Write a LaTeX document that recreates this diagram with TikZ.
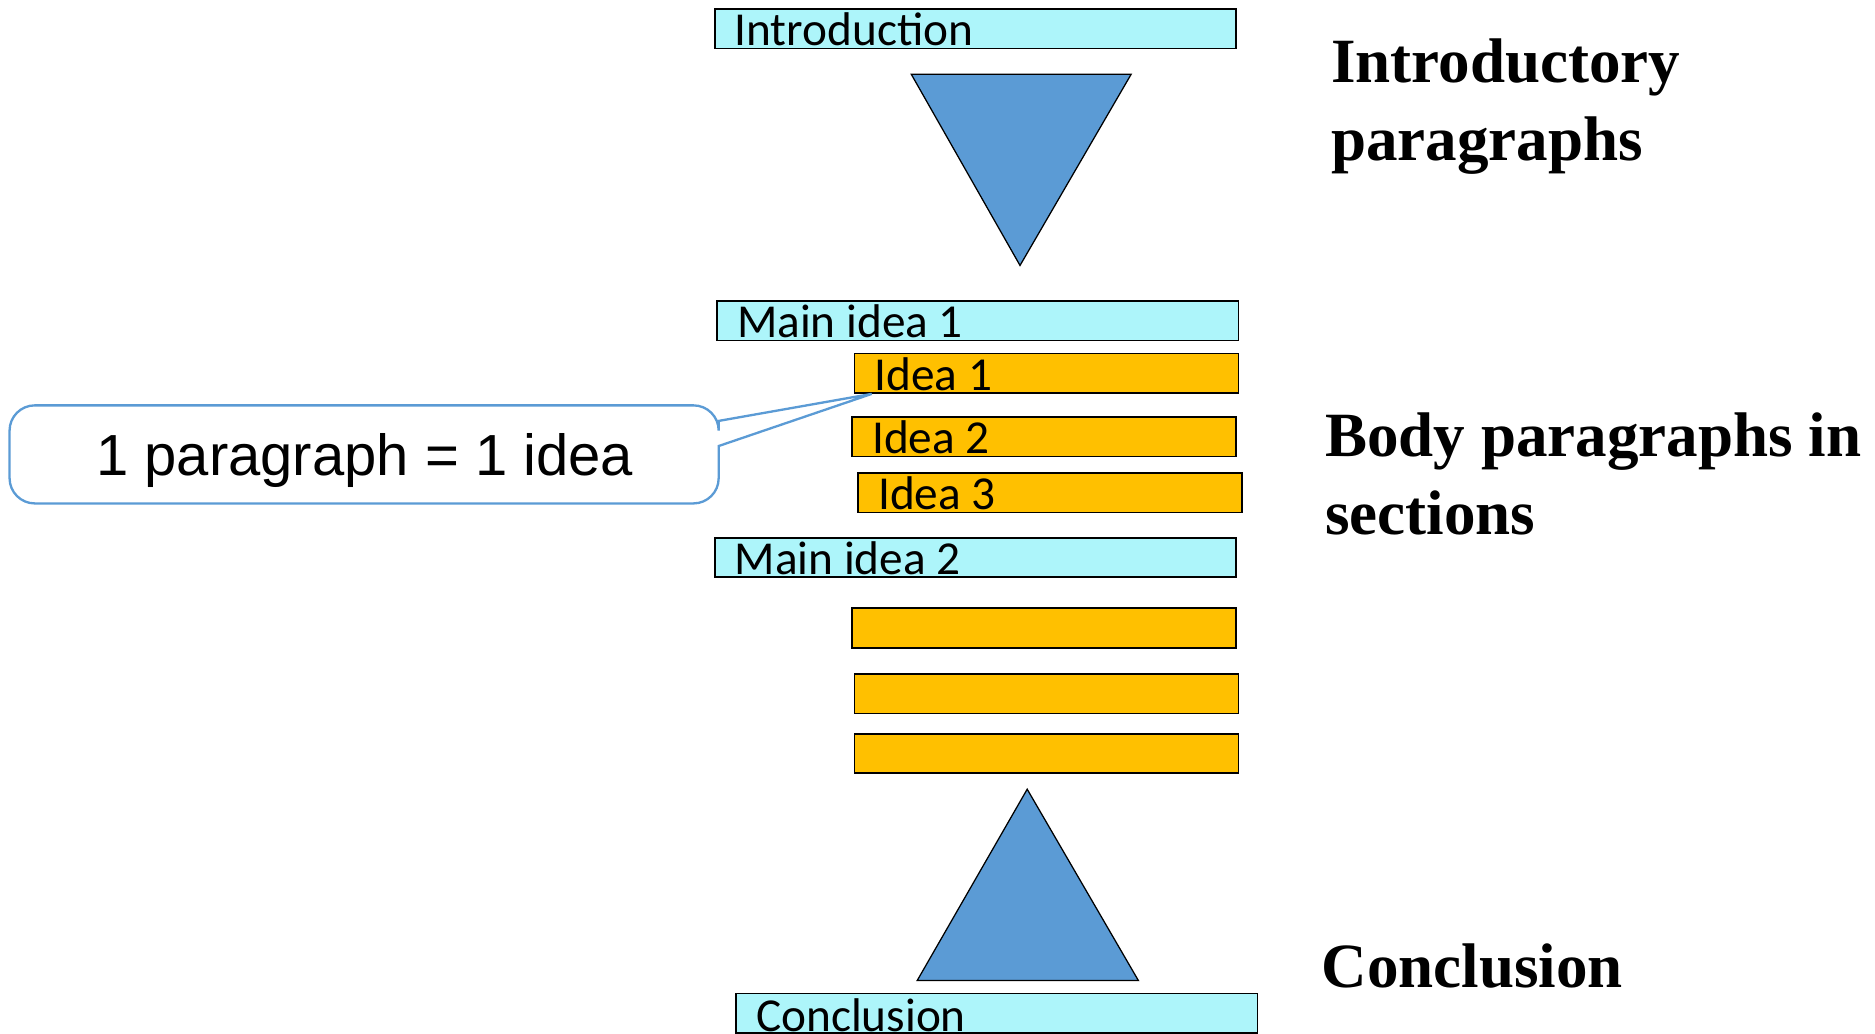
\documentclass[tikz,border=0pt]{standalone}
\usepackage{fontspec}
\setmainfont{Liberation Serif}
\newfontfamily\boxfont{Carlito}
\newfontfamily\callfont{Liberation Sans}
\usetikzlibrary{calc}
\definecolor{cyanfill}{RGB}{173,245,250}
\definecolor{orangefill}{RGB}{255,192,0}
\definecolor{trifill}{RGB}{91,155,213}
\definecolor{callblue}{RGB}{91,155,213}
\begin{document}
\begin{tikzpicture}[x=0.02cm,y=-0.02cm,
  bar/.style={draw=black, line width=0.8pt, rectangle, inner sep=0pt, anchor=north west, minimum height=0.66cm},
  mainbar/.style={bar, fill=cyanfill, minimum width=8.72cm},
  ideabar/.style={bar, fill=orangefill, minimum width=6.42cm},
  bartext/.style={anchor=base west, inner sep=0pt, font=\boxfont\fontsize{22.5}{27}\selectfont},
  sidelabel/.style={anchor=base west, inner sep=0pt, align=left, font=\bfseries\fontsize{30}{37}\selectfont},
  tri/.style={draw=black, line width=0.6pt, fill=trifill, line join=miter},
  callout/.style={draw=callblue, line width=1.1pt, fill=white}
]
\useasboundingbox (0,0) rectangle (1568,864);

% bars
\node[mainbar] (intro) at (597,7) {};
\node[mainbar] (main1) at (599,251) {};
\node[ideabar] (idea1) at (714,295) {};
\node[ideabar] (idea2) at (712,348) {};
\node[ideabar] (idea3) at (717,395) {};
\node[mainbar] (main2) at (597,449) {};
\node[ideabar] (blank1) at (712,508) {};
\node[ideabar] (blank2) at (714,563) {};
\node[ideabar] (blank3) at (714,613) {};
\node[mainbar] (concl) at (615,830) {};

% bar texts
\node[bartext] (tintro) at ($(intro.south west)+(17,-3)$) {Introduction};
\node[bartext] (tmain1) at ($(main1.south west)+(17,-3)$) {Main idea 1};
\node[bartext] (tidea1) at ($(idea1.south west)+(17,-3)$) {Idea 1};
\node[bartext] (tidea2) at ($(idea2.south west)+(17,-3)$) {Idea 2};
\node[bartext] (tidea3) at ($(idea3.south west)+(17,-3)$) {Idea 3};
\node[bartext] (tmain2) at ($(main2.south west)+(17,-3)$) {Main idea 2};
\node[bartext] (tconcl) at ($(concl.south west)+(17,-2)$) {Conclusion};

% triangles
\coordinate (dtl) at (762,62);
\coordinate (dtr) at (946,62);
\coordinate (dtb) at (853,222);
\draw[tri] (dtl) -- (dtr) -- (dtb) -- cycle;
\coordinate (utt) at (859,660);
\coordinate (utl) at (767,820);
\coordinate (utr) at (952,820);
\draw[tri] (utt) -- (utr) -- (utl) -- cycle;

% side labels (base = last line)
\node[sidelabel] (lintro) at (1113,134) {Introductory\\paragraphs};
\node[sidelabel] (lbody) at (1108,447) {Body paragraphs in\\sections};
\node[sidelabel] (lconcl) at (1105,826) {Conclusion};

% callout
\coordinate (tip) at ($(idea1.south west)+(15,0)$);
\draw[callout] (601,373) [rounded corners=12] -- (601,421) -- (8,421) -- (8,339) -- (601,339) [sharp corners] -- (601,352) -- (tip) -- cycle;
\node[anchor=base, inner sep=0pt, font=\callfont\fontsize{27.6}{33}\selectfont] (calltext) at (305,398) {1 paragraph = 1 idea};
\end{tikzpicture}
\end{document}
